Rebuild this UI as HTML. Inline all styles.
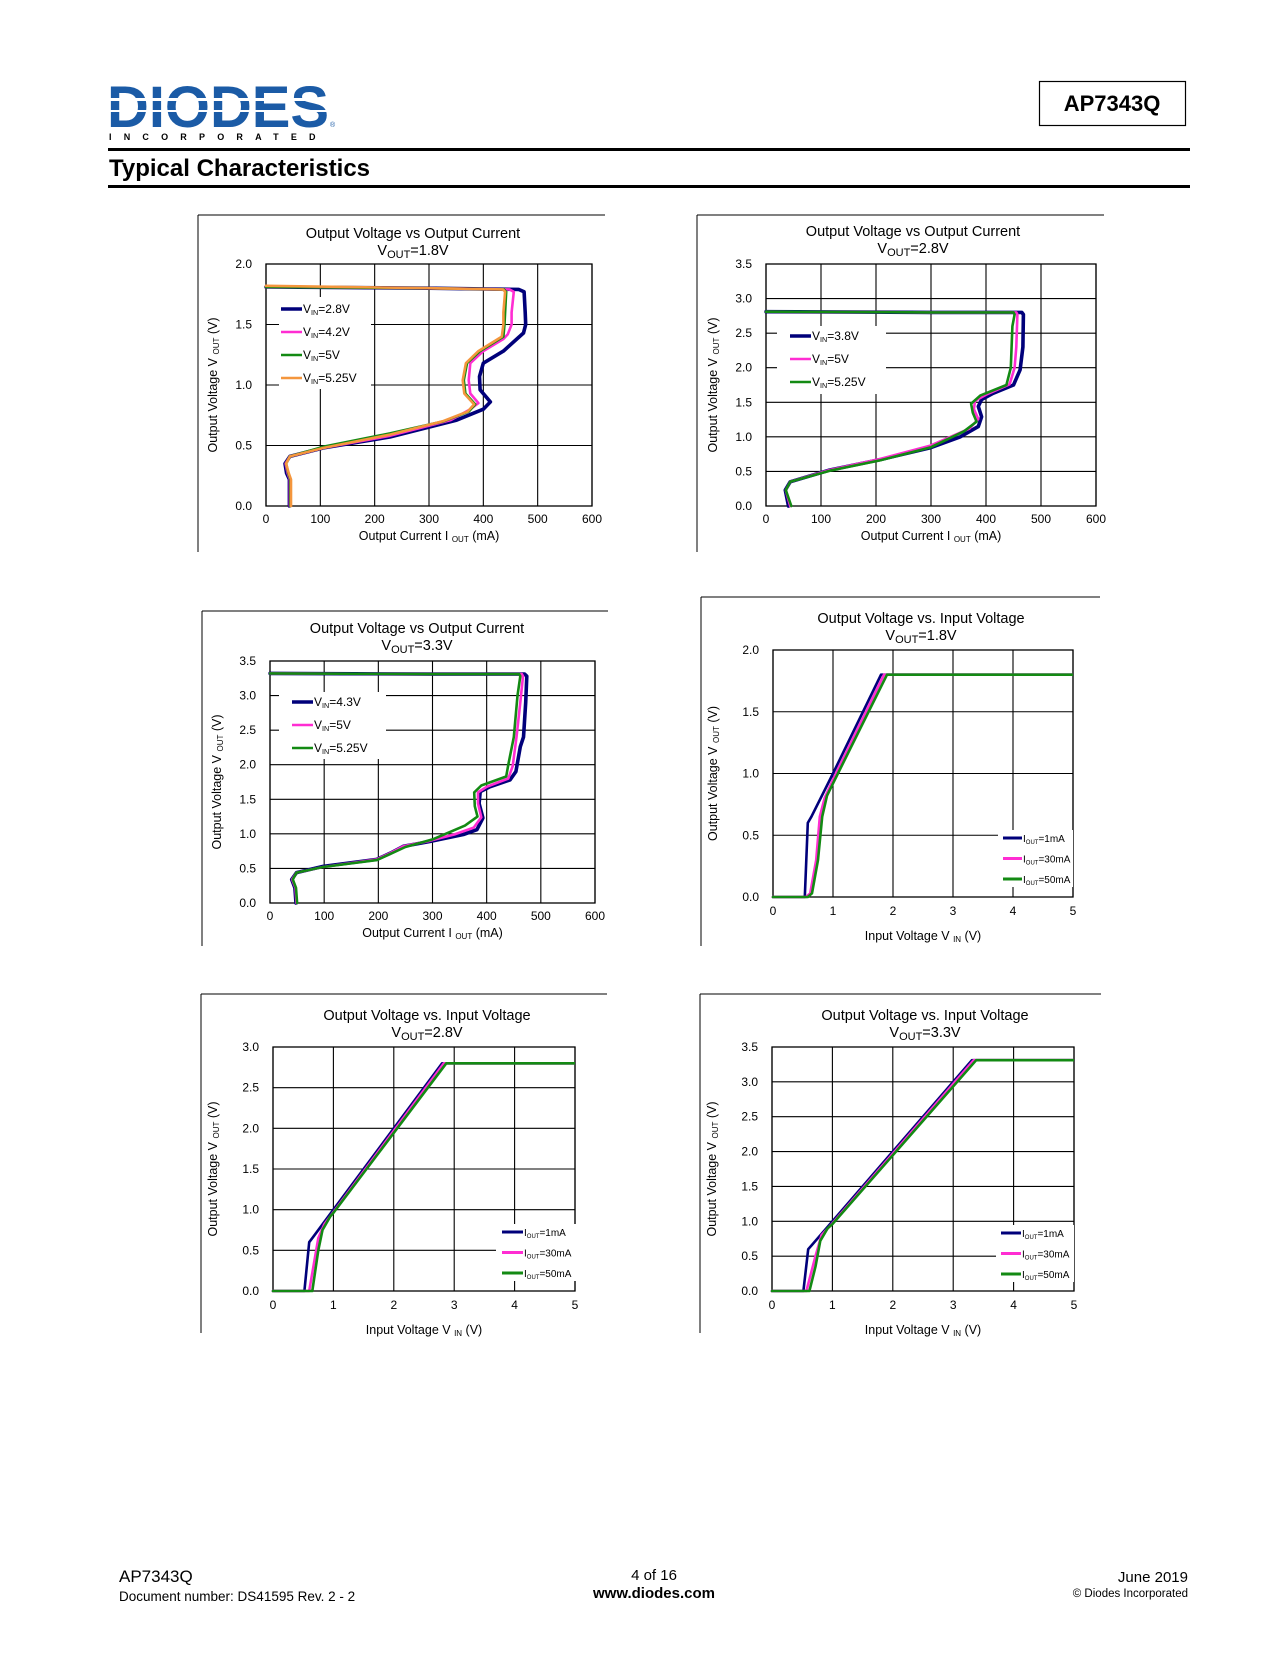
<!DOCTYPE html>
<html><head><meta charset="utf-8"><style>
html,body{margin:0;padding:0;background:#fff;}
svg text{font-family:"Liberation Sans",Arial,sans-serif;fill:#000;}
</style></head><body>
<svg id="page" width="1275" height="1650" viewBox="0 0 1275 1650" xmlns="http://www.w3.org/2000/svg">
<g>
<text x="107" y="127" font-size="58" font-weight="bold" fill="#1b5ba6" style="fill:#1b5ba6" textLength="222" lengthAdjust="spacingAndGlyphs">DIODES</text>
<rect x="105" y="98" width="230" height="3" fill="#fff"/>
<rect x="105" y="110" width="230" height="2" fill="#fff"/>
<text x="330" y="127" font-size="7" style="fill:#1b5ba6">®</text>
<text x="109" y="140" font-size="9" font-weight="bold" letter-spacing="12.2">INCORPORATED</text>
</g>
<g>
<rect x="1039.5" y="81.5" width="146" height="44" fill="none" stroke="#000" stroke-width="1.2"/>
<text x="1112" y="111" font-size="22" font-weight="bold" text-anchor="middle">AP7343Q</text>
</g>
<rect x="108" y="148" width="1082" height="3" fill="#000"/>
<text x="109" y="176" font-size="24" font-weight="bold">Typical Characteristics</text>
<rect x="108" y="185" width="1082" height="3" fill="#000"/>
<g>
<text x="119" y="1582" font-size="17">AP7343Q</text>
<text x="119" y="1601" font-size="13.5">Document number: DS41595  Rev. 2 - 2</text>
<text x="654" y="1580" font-size="15" text-anchor="middle">4 of 16</text>
<text x="654" y="1598" font-size="15" font-weight="bold" text-anchor="middle">www.diodes.com</text>
<text x="1188" y="1582" font-size="15" text-anchor="end">June 2019</text>
<text x="1188" y="1597" font-size="11.5" text-anchor="end">© Diodes Incorporated</text>
</g>
<g id="charts"></g>
</svg>
<script>
// ---------- Chart data ----------
const c1_xticks=[0,100,200,300,400,500,600];
const c1_yticks=[0.0,0.5,1.0,1.5,2.0];
const c1_labels=["2.8V","4.2V","5V","5.25V"];
const c1_vin28=[[0,1.81],[300,1.80],[465,1.79],[475,1.77],[477,1.6],[478,1.5],[474,1.43],[437,1.28],[400,1.18],[393,1.07],[394,0.96],[413,0.86],[400,0.80],[351,0.71],[228,0.57],[106,0.48],[44,0.41],[35,0.35],[38,0.27],[43,0.22],[43,0]];
const c1_vin42=[[0,1.81],[300,1.80],[448,1.79],[456,1.77],[452,1.6],[452,1.5],[445,1.42],[437,1.38],[400,1.28],[376,1.18],[373,1.04],[376,0.93],[391,0.85],[376,0.80],[340,0.71],[228,0.58],[106,0.48],[44,0.41],[36,0.35],[40,0.27],[44,0.22],[44,0]];
const c1_vin5=[[0,1.81],[300,1.80],[438,1.79],[442,1.77],[440,1.6],[439,1.5],[437,1.40],[394,1.28],[370,1.18],[364,1.04],[367,0.93],[385,0.84],[373,0.78],[327,0.70],[228,0.60],[106,0.49],[44,0.41],[37,0.35],[41,0.27],[45,0.22],[45,0]];
const c1_vin525=[[0,1.82],[300,1.80],[436,1.79],[440,1.77],[437,1.6],[437,1.5],[434,1.40],[391,1.28],[368,1.18],[362,1.04],[365,0.93],[383,0.84],[371,0.78],[325,0.70],[228,0.59],[106,0.48],[44,0.41],[37,0.35],[42,0.27],[46,0.22],[46,0]];

const c2_xticks=[0,100,200,300,400,500,600];
const c2_yticks=[0.0,0.5,1.0,1.5,2.0,2.5,3.0,3.5];
const c2_labels=["3.8V","5V","5.25V"];
const c2_vin38=[[0,2.81],[300,2.80],[465,2.80],[468,2.77],[467,2.3],[462,1.97],[450,1.75],[413,1.63],[392,1.54],[386,1.44],[392,1.29],[386,1.15],[353,1.0],[298,0.84],[207,0.67],[116,0.52],[44,0.35],[35,0.23],[41,0]];
const c2_vin5=[[0,2.81],[300,2.80],[455,2.80],[457,2.77],[455,2.3],[452,2.0],[443,1.76],[400,1.61],[380,1.52],[378,1.40],[386,1.26],[370,1.12],[330,0.98],[298,0.87],[207,0.68],[116,0.52],[44,0.35],[36,0.23],[44,0]];
const c2_vin525=[[0,2.81],[300,2.80],[450,2.80],[452,2.77],[448,2.6],[445,2.0],[437,1.75],[390,1.60],[373,1.48],[376,1.35],[383,1.22],[360,1.08],[300,0.85],[207,0.66],[116,0.51],[44,0.35],[36,0.23],[46,0]];

const c3_xticks=[0,100,200,300,400,500,600];
const c3_yticks=[0.0,0.5,1.0,1.5,2.0,2.5,3.0,3.5];
const c3_labels=["4.3V","5V","5.25V"];
const c3_vin43=[[0,3.32],[300,3.31],[470,3.31],[474,3.28],[472,2.9],[468,2.40],[462,2.26],[454,1.90],[443,1.78],[406,1.68],[388,1.61],[386,1.44],[393,1.23],[382,1.06],[357,0.99],[295,0.89],[246,0.82],[222,0.72],[197,0.63],[98,0.53],[49,0.44],[40,0.34],[46,0.22],[48,0]];
const c3_vin5=[[0,3.32],[300,3.31],[465,3.31],[467,3.28],[462,2.9],[455,2.4],[448,1.98],[440,1.80],[400,1.68],[384,1.60],[384,1.44],[390,1.24],[376,1.09],[340,0.99],[295,0.90],[246,0.82],[222,0.72],[197,0.63],[98,0.52],[49,0.44],[41,0.34],[47,0.22],[49,0]];
const c3_vin525=[[0,3.32],[300,3.31],[460,3.31],[462,3.28],[457,3.0],[450,2.4],[440,2.0],[436,1.83],[390,1.70],[377,1.60],[378,1.40],[383,1.25],[360,1.12],[300,0.92],[250,0.81],[222,0.71],[197,0.62],[98,0.52],[49,0.44],[42,0.34],[48,0.22],[50,0]];

const c4_xticks=[0,1,2,3,4,5];
const c4_yticks=[0.0,0.5,1.0,1.5,2.0];
const c4_labels=["1mA","30mA","50mA"];
const c4_i1=[[0,0],[0.53,0],[0.58,0.6],[0.64,0.65],[1.0,1.0],[1.8,1.8],[5,1.8]];
const c4_i30=[[0,0],[0.55,0],[0.62,0.03],[0.72,0.3],[0.78,0.65],[0.86,0.8],[1.0,0.95],[1.85,1.8],[5,1.8]];
const c4_i50=[[0,0],[0.58,0],[0.65,0.03],[0.75,0.3],[0.82,0.65],[0.9,0.82],[1.0,0.92],[1.9,1.8],[5,1.8]];

const c5_xticks=[0,1,2,3,4,5];
const c5_yticks=[0.0,0.5,1.0,1.5,2.0,2.5,3.0];
const c5_labels=["1mA","30mA","50mA"];
const c5_i1=[[0,0],[0.52,0],[0.6,0.6],[0.66,0.66],[1.0,1.0],[2.8,2.8],[5,2.8]];
const c5_i30=[[0,0],[0.6,0],[0.75,0.65],[0.85,0.82],[1.0,0.97],[2.83,2.8],[5,2.8]];
const c5_i50=[[0,0],[0.65,0],[0.75,0.5],[0.82,0.75],[0.95,0.92],[1.0,0.96],[2.87,2.8],[5,2.8]];

const c6_xticks=[0,1,2,3,4,5];
const c6_yticks=[0.0,0.5,1.0,1.5,2.0,2.5,3.0,3.5];
const c6_labels=["1mA","30mA","50mA"];
const c6_i1=[[0,0],[0.52,0],[0.6,0.6],[0.66,0.66],[1.0,1.0],[3.31,3.31],[5,3.31]];
const c6_i30=[[0,0],[0.57,0],[0.72,0.5],[0.82,0.8],[1.0,0.97],[3.34,3.31],[5,3.31]];
const c6_i50=[[0,0],[0.62,0],[0.72,0.35],[0.8,0.72],[0.92,0.9],[1.0,0.96],[3.38,3.31],[5,3.31]];

const NAVY="#00007a",PINK="#ff2dd2",GREEN="#138a13",ORANGE="#f4963d";
const NS="http://www.w3.org/2000/svg";
const root=document.getElementById('charts');

function mk(tag,attrs,parent){const e=document.createElementNS(NS,tag);for(const k in attrs)e.setAttribute(k,attrs[k]);parent.appendChild(e);return e;}

function drawChart(cfg){
  const g=mk('g',{},root);
  
  
  const xs=v=>cfg.px0+(v-cfg.xmin)/(cfg.xmax-cfg.xmin)*(cfg.px1-cfg.px0);
  const ys=v=>cfg.py0-(v-cfg.ymin)/(cfg.ymax-cfg.ymin)*(cfg.py0-cfg.py1);
  const f1=mk('line',{x1:cfg.fx,y1:cfg.fy,x2:cfg.fx2,y2:cfg.fy,stroke:'#000','stroke-width':1},g);
  
  
  const f2=mk('line',{x1:cfg.fx,y1:cfg.fy,x2:cfg.fx,y2:cfg.fy2,stroke:'#000','stroke-width':1},g);
  
  
  const t=mk('text',{x:cfg.tx,y:cfg.ty,'font-size':14.5,'text-anchor':'middle'},g);
  t.textContent=cfg.title;
  
  
  const st=mk('text',{x:cfg.tx,y:cfg.ty+17,'font-size':14.5,'text-anchor':'middle'},g);
  
  
  st.innerHTML='V<tspan font-size="11" dy="3">OUT</tspan><tspan dy="-3">='+cfg.vout+'</tspan>';
  const grid=mk('g',{},g);
  
  
  cfg.xticks.forEach(v=>{
    mk('line',{x1:xs(v),y1:cfg.py1,x2:xs(v),y2:cfg.py0,stroke:'#000','stroke-width':1.1},grid);
    const tl=mk('text',{x:xs(v),y:cfg.py0+cfg.xtdy,'font-size':12,'text-anchor':'middle'},g);
    tl.textContent=v;
    
    
  });
  cfg.yticks.forEach(v=>{
    mk('line',{x1:cfg.px0,y1:ys(v),x2:cfg.px1,y2:ys(v),stroke:'#000','stroke-width':1.1},grid);
    const tl=mk('text',{x:cfg.px0-14,y:ys(v)+4,'font-size':12,'text-anchor':'end'},g);
    tl.textContent=v.toFixed(1);
    
    
  });
  mk('rect',{x:cfg.px0,y:cfg.py1,width:cfg.px1-cfg.px0,height:cfg.py0-cfg.py1,fill:'none',stroke:'#000','stroke-width':1.3},grid);
  const lg=mk('g',{},g);
  
  
  mk('rect',{x:cfg.lbx,y:cfg.lby,width:cfg.lbw,height:cfg.lbh,fill:'#fff'},lg);
  const xt=mk('text',{x:(cfg.px0+cfg.px1)/2,y:cfg.py0+cfg.xtitdy,'font-size':12.5,'text-anchor':'middle'},g);
  
  
  xt.innerHTML=cfg.xtitle;
  const ymid=(cfg.py0+cfg.py1)/2;
  const yt=mk('text',{x:cfg.ytx,y:ymid,'font-size':12.5,'text-anchor':'middle',transform:'rotate(-90 '+cfg.ytx+' '+ymid+')'},g);
  
  
  yt.innerHTML='Output Voltage V <tspan font-size="8" dy="2">OUT</tspan><tspan dy="-2"> (V)</tspan>';
  const cid='clip'+cfg.name;
  const cp=mk('clipPath',{id:cid},g);
  mk('rect',{x:cfg.px0-3,y:cfg.py1,width:cfg.px1-cfg.px0+3,height:cfg.py0-cfg.py1+3},cp);
  const sg=mk('g',{'clip-path':'url(#'+cid+')'},g);
  cfg.series.forEach((s,i)=>{
    const pts=s.data.map(p=>xs(p[0]).toFixed(1)+','+ys(p[1]).toFixed(1)).join(' ');
    const pl=mk('polyline',{points:pts,fill:'none',stroke:s.color,'stroke-width':s.w,'stroke-linejoin':'round','stroke-linecap':'round'},sg);
    
    
    const ly=cfg.ly0+i*cfg.ldy;
    const ll=mk('line',{x1:cfg.lx,y1:ly,x2:cfg.lx+cfg.llen,y2:ly,stroke:s.color,'stroke-width':s.lw||s.w},lg);
    
    
    const lt=mk('text',{x:cfg.lx+cfg.llen+1,y:ly+4,'font-size':cfg.lfs},lg);
    
    
    lt.innerHTML=cfg.lprefix+'<tspan font-size="'+(cfg.lfs*0.6)+'" dy="2">'+cfg.lsub+'</tspan><tspan dy="-2">='+s.label+'</tspan>';
  });
}

const IOX='Output Current I <tspan font-size="8" dy="2">OUT</tspan><tspan dy="-2"> (mA)</tspan>';
const VIX='Input Voltage V <tspan font-size="8" dy="2">IN</tspan><tspan dy="-2"> (V)</tspan>';
const T_IO='Output Voltage vs Output Current';
const T_VI='Output Voltage vs. Input Voltage';

drawChart({name:'chart-vout-iout-1v8',title:T_IO,fx:198,fy:215,fx2:605,fy2:552,tx:413,ty:238,vout:'1.8V',
 px0:266,px1:592,py0:506,py1:264,xmin:0,xmax:600,ymin:0,ymax:2,xticks:c1_xticks,yticks:c1_yticks,xtdy:17,xtitdy:34,xtitle:IOX,ytx:217,
 lbx:279,lby:297,lbw:92,lbh:92,lx:281,llen:21,ly0:309,ldy:23,lfs:12,lprefix:'V',lsub:'IN',
 series:[{key:'vin-2v8',label:c1_labels[0],data:c1_vin28,color:NAVY,w:3.6},{key:'vin-4v2',label:c1_labels[1],data:c1_vin42,color:PINK,w:2.6},{key:'vin-5v',label:c1_labels[2],data:c1_vin5,color:GREEN,w:2.6},{key:'vin-5v25',label:c1_labels[3],data:c1_vin525,color:ORANGE,w:2.6}]});

drawChart({name:'chart-vout-iout-2v8',title:T_IO,fx:697,fy:215,fx2:1104,fy2:552,tx:913,ty:236,vout:'2.8V',
 px0:766,px1:1096,py0:506,py1:264,xmin:0,xmax:600,ymin:0,ymax:3.5,xticks:c2_xticks,yticks:c2_yticks,xtdy:17,xtitdy:34,xtitle:IOX,ytx:717,
 lbx:777,lby:326,lbw:109,lbh:68,lx:790,llen:21,ly0:336,ldy:23,lfs:12,lprefix:'V',lsub:'IN',
 series:[{key:'vin-3v8',label:c2_labels[0],data:c2_vin38,color:NAVY,w:3.6},{key:'vin-5v',label:c2_labels[1],data:c2_vin5,color:PINK,w:2.6},{key:'vin-5v25',label:c2_labels[2],data:c2_vin525,color:GREEN,w:2.6}]});

drawChart({name:'chart-vout-iout-3v3',title:T_IO,fx:202,fy:611,fx2:608,fy2:946,tx:417,ty:633,vout:'3.3V',
 px0:270,px1:595,py0:903,py1:661,xmin:0,xmax:600,ymin:0,ymax:3.5,xticks:c3_xticks,yticks:c3_yticks,xtdy:17,xtitdy:34,xtitle:IOX,ytx:221,
 lbx:279,lby:692,lbw:107,lbh:67,lx:292,llen:21,ly0:702,ldy:23,lfs:12,lprefix:'V',lsub:'IN',
 series:[{key:'vin-4v3',label:c3_labels[0],data:c3_vin43,color:NAVY,w:3.6},{key:'vin-5v',label:c3_labels[1],data:c3_vin5,color:PINK,w:2.6},{key:'vin-5v25',label:c3_labels[2],data:c3_vin525,color:GREEN,w:2.6}]});

drawChart({name:'chart-vout-vin-1v8',title:T_VI,fx:701,fy:597,fx2:1100,fy2:946,tx:921,ty:623,vout:'1.8V',
 px0:773,px1:1073,py0:897,py1:650,xmin:0,xmax:5,ymin:0,ymax:2,xticks:c4_xticks,yticks:c4_yticks,xtdy:18,xtitdy:43,xtitle:VIX,ytx:717,
 lbx:998,lby:830,lbw:75,lbh:57,lx:1003,llen:19,ly0:838,ldy:20.5,lfs:10,lprefix:'I',lsub:'OUT',
 series:[{key:'iout-1ma',label:c4_labels[0],data:c4_i1,color:NAVY,w:2.6,lw:3},{key:'iout-30ma',label:c4_labels[1],data:c4_i30,color:PINK,w:2.6,lw:3},{key:'iout-50ma',label:c4_labels[2],data:c4_i50,color:GREEN,w:2.6,lw:3}]});

drawChart({name:'chart-vout-vin-2v8',title:T_VI,fx:201,fy:994,fx2:607,fy2:1333,tx:427,ty:1020,vout:'2.8V',
 px0:273,px1:575,py0:1291,py1:1047,xmin:0,xmax:5,ymin:0,ymax:3,xticks:c5_xticks,yticks:c5_yticks,xtdy:18,xtitdy:43,xtitle:VIX,ytx:217,
 lbx:496,lby:1224,lbw:80,lbh:57,lx:502,llen:21,ly0:1232,ldy:20.5,lfs:10,lprefix:'I',lsub:'OUT',
 series:[{key:'iout-1ma',label:c5_labels[0],data:c5_i1,color:NAVY,w:2.6,lw:3},{key:'iout-30ma',label:c5_labels[1],data:c5_i30,color:PINK,w:2.6,lw:3},{key:'iout-50ma',label:c5_labels[2],data:c5_i50,color:GREEN,w:2.6,lw:3}]});

drawChart({name:'chart-vout-vin-3v3',title:T_VI,fx:700,fy:994,fx2:1101,fy2:1333,tx:925,ty:1020,vout:'3.3V',
 px0:772,px1:1074,py0:1291,py1:1047,xmin:0,xmax:5,ymin:0,ymax:3.5,xticks:c6_xticks,yticks:c6_yticks,xtdy:18,xtitdy:43,xtitle:VIX,ytx:716,
 lbx:996,lby:1225,lbw:78,lbh:57,lx:1001,llen:20,ly0:1233,ldy:20.5,lfs:10,lprefix:'I',lsub:'OUT',
 series:[{key:'iout-1ma',label:c6_labels[0],data:c6_i1,color:NAVY,w:2.6,lw:3},{key:'iout-30ma',label:c6_labels[1],data:c6_i30,color:PINK,w:2.6,lw:3},{key:'iout-50ma',label:c6_labels[2],data:c6_i50,color:GREEN,w:2.6,lw:3}]});
</script>
</body></html>
